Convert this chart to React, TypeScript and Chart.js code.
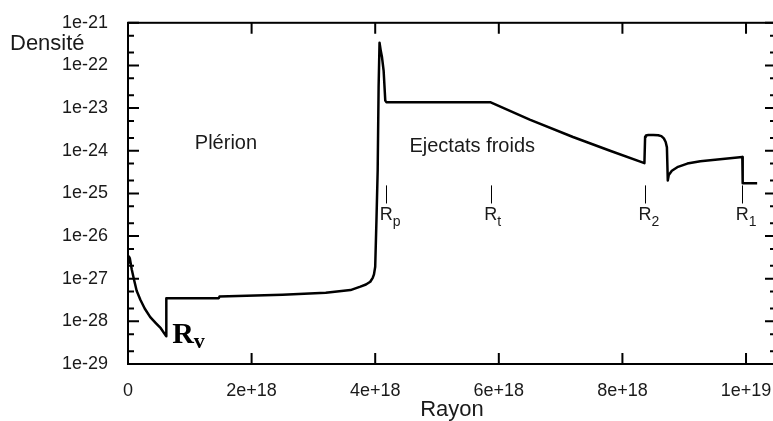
import { useEffect, useRef } from "react";
import { Chart, registerables } from "chart.js";

Chart.register(...registerables);

// Radius (cm) and density samples
const radius = [
  0, 0.015e18, 0.03e18, 0.06e18, 0.094e18, 0.14e18, 0.2e18, 0.27e18, 0.36e18, 0.45e18, 0.53e18, 0.617e18,
  0.62e18, 1.47e18, 1.48e18, 2.5e18, 3.2e18, 3.6e18, 3.76e18, 3.85e18, 3.92e18, 3.96e18, 3.98e18,
  4.0e18, 4.02e18, 4.04e18, 4.055e18, 4.07e18, 4.09e18, 4.11e18, 4.136e18, 4.163e18, 4.18e18,
  5.86e18, 6.5e18, 7.2e18, 7.8e18, 8.356e18,
  8.367e18, 8.38e18, 8.42e18, 8.5e18, 8.58e18, 8.63e18, 8.67e18, 8.7e18, 8.72e18, 8.734e18,
  8.75e18, 8.8e18, 8.9e18, 9.05e18, 9.26e18, 9.58e18, 9.94e18, 9.946e18, 10.18e18,
];
const density = [
  2.4e-27, 3.3e-27, 3.0e-27, 1.66e-27, 1.0e-27, 5.2e-28, 3.2e-28, 2.0e-28, 1.26e-28, 9.1e-29, 6.9e-29, 4.5e-29,
  3.5e-28, 3.5e-28, 3.8e-28, 4.2e-28, 4.7e-28, 5.4e-28, 6.5e-28, 7.3e-28, 8.5e-28, 1.05e-27, 1.26e-27,
  1.9e-27, 2.3e-26, 3.5e-25, 3.1e-23, 3.4e-22, 2.2e-22, 1.55e-22, 7.6e-23, 1.5e-23, 1.38e-23,
  1.38e-23, 5.38e-24, 2.1e-24, 9.98e-25, 5.12e-25,
  2.14e-24, 2.28e-24, 2.35e-24, 2.35e-24, 2.3e-24, 2.2e-24, 1.95e-24, 1.6e-24, 1.2e-24, 2.0e-25,
  2.7e-25, 3.4e-25, 4.2e-25, 5.0e-25, 5.7e-25, 6.3e-25, 7.1e-25, 1.74e-25, 1.74e-25,
];

const xTickValues = [0, 2e18, 4e18, 6e18, 8e18, 1e19];
const xTickLabels = ["0", "2e+18", "4e+18", "6e+18", "8e+18", "1e+19"];
const yTickValues = [1e-29, 1e-28, 1e-27, 1e-26, 1e-25, 1e-24, 1e-23, 1e-22, 1e-21];
const yTickLabels = ["1e-29", "1e-28", "1e-27", "1e-26", "1e-25", "1e-24", "1e-23", "1e-22", "1e-21"];
const yMinorFactors = [2, 5];

const regionNames = ["Plérion", "Ejectats froids"];
const regionRadius = [1.585e18, 5.57e18];
const regionDensity = [1.1e-24, 9.3e-25];

const markerSubs = ["p", "t", "2", "1"];
const markerRadius = [4.18e18, 5.87e18, 8.367e18, 9.94e18];

const X_MAX = 1.0485e19;
const SANS = "'Liberation Sans', Arial, Helvetica, sans-serif";
const SERIF = "'Liberation Serif', 'Times New Roman', serif";
const TEXT = "#1a1a1a";

const decorPlugin = {
  id: "decor",
  afterDatasetsDraw(chart: any) {
    const { ctx, chartArea: a, scales } = chart;
    const x = scales.x;
    const y = scales.y;
    ctx.save();
    ctx.strokeStyle = "#000";
    ctx.lineWidth = 2;
    ctx.strokeRect(a.left, a.top, a.right - a.left, a.bottom - a.top);
    ctx.beginPath();
    yTickValues.forEach((v) => {
      const py = y.getPixelForValue(v);
      ctx.moveTo(a.left, py);
      ctx.lineTo(a.left + 11, py);
      ctx.moveTo(a.right, py);
      ctx.lineTo(a.right - 11, py);
    });
    yTickValues.slice(0, -1).forEach((v) => {
      yMinorFactors.forEach((f) => {
        const py = y.getPixelForValue(v * f);
        ctx.moveTo(a.left, py);
        ctx.lineTo(a.left + 6, py);
        ctx.moveTo(a.right, py);
        ctx.lineTo(a.right - 6, py);
      });
    });
    xTickValues.forEach((v) => {
      const px = x.getPixelForValue(v);
      ctx.moveTo(px, a.bottom);
      ctx.lineTo(px, a.bottom - 11);
      ctx.moveTo(px, a.top);
      ctx.lineTo(px, a.top + 11);
    });
    ctx.stroke();

    // Marker ticks R_p, R_t, R_2, R_1
    ctx.lineWidth = 1;
    ctx.beginPath();
    markerRadius.forEach((r) => {
      const px = Math.round(x.getPixelForValue(r)) + 0.5;
      ctx.moveTo(px, y.getPixelForValue(1.54e-25));
      ctx.lineTo(px, y.getPixelForValue(5.8e-26));
    });
    ctx.stroke();

    ctx.fillStyle = TEXT;
    ctx.textBaseline = "alphabetic";
    markerRadius.forEach((r, i) => {
      const px = x.getPixelForValue(r);
      const py = y.getPixelForValue(2.34e-26);
      ctx.font = `18px ${SANS}`;
      ctx.textAlign = "center";
      ctx.fillText("R", px, py);
      const w = ctx.measureText("R").width;
      ctx.font = `14px ${SANS}`;
      ctx.textAlign = "left";
      ctx.fillText(markerSubs[i], px + w / 2, py + 6);
    });

    // Region labels
    ctx.font = `20px ${SANS}`;
    ctx.textAlign = "center";
    regionNames.forEach((t, i) => {
      ctx.fillText(t, x.getPixelForValue(regionRadius[i]), y.getPixelForValue(regionDensity[i]));
    });

    // R_v
    ctx.fillStyle = "#000";
    ctx.textAlign = "left";
    const rvx = x.getPixelForValue(0.715e18);
    const rvy = y.getPixelForValue(3.05e-29);
    ctx.font = `bold 30px ${SERIF}`;
    ctx.fillText("R", rvx, rvy);
    const rw = ctx.measureText("R").width;
    ctx.font = `bold 22px ${SERIF}`;
    ctx.fillText("v", rvx + rw, rvy + 5);

    // y title
    ctx.fillStyle = TEXT;
    ctx.font = `22px ${SANS}`;
    ctx.fillText("Densité", 10, 50);
    ctx.restore();
  },
};

export default function App() {
  const canvasRef = useRef<HTMLCanvasElement | null>(null);

  useEffect(() => {
    if (!canvasRef.current) return;
    const points = radius.map((r, i) => ({ x: r, y: density[i] }));
    const chart = new Chart(canvasRef.current, {
      type: "line",
      data: {
        datasets: [
          {
            data: points,
            borderColor: "#000",
            borderWidth: 2.5,
            pointRadius: 0,
            fill: false,
            tension: 0,
            borderJoinStyle: "round",
          },
        ],
      },
      options: {
        animation: false,
        responsive: false,
        events: [],
        layout: { padding: { top: 22, right: 4, left: 0, bottom: 0 }, autoPadding: false },
        plugins: { legend: { display: false }, tooltip: { enabled: false }, title: { display: false } },
        scales: {
          x: {
            type: "linear",
            min: 0,
            max: X_MAX,
            grid: { display: false },
            border: { display: false },
            afterBuildTicks: (s: any) => {
              s.ticks = xTickValues.map((v) => ({ value: v }));
            },
            afterFit: (s: any) => {
              s.height = 57;
            },
            ticks: {
              autoSkip: false,
              maxRotation: 0,
              padding: 8,
              color: TEXT,
              font: { family: SANS, size: 18 },
              callback: (_v: any, i: number) => xTickLabels[i],
            },
            title: {
              display: true,
              text: "Rayon",
              color: TEXT,
              padding: 0,
              font: { family: SANS, size: 22, lineHeight: 1 },
            },
          },
          y: {
            type: "logarithmic",
            min: 1e-29,
            max: 1e-21,
            grid: { display: false },
            border: { display: false },
            afterBuildTicks: (s: any) => {
              s.ticks = yTickValues.map((v) => ({ value: v }));
            },
            afterFit: (s: any) => {
              s.width = 128;
            },
            ticks: {
              autoSkip: false,
              padding: 12,
              color: TEXT,
              font: { family: SANS, size: 18 },
              callback: (_v: any, i: number) => yTickLabels[i],
            },
          },
        },
      },
      plugins: [decorPlugin],
    });
    return () => chart.destroy();
  }, []);

  return (
    <div
      style={{
        position: "absolute",
        left: 0,
        top: 0,
        width: 773,
        height: 421,
        overflow: "hidden",
        background: "#fff",
      }}
    >
      <canvas ref={canvasRef} width={780} height={421} style={{ display: "block" }} />
    </div>
  );
}
